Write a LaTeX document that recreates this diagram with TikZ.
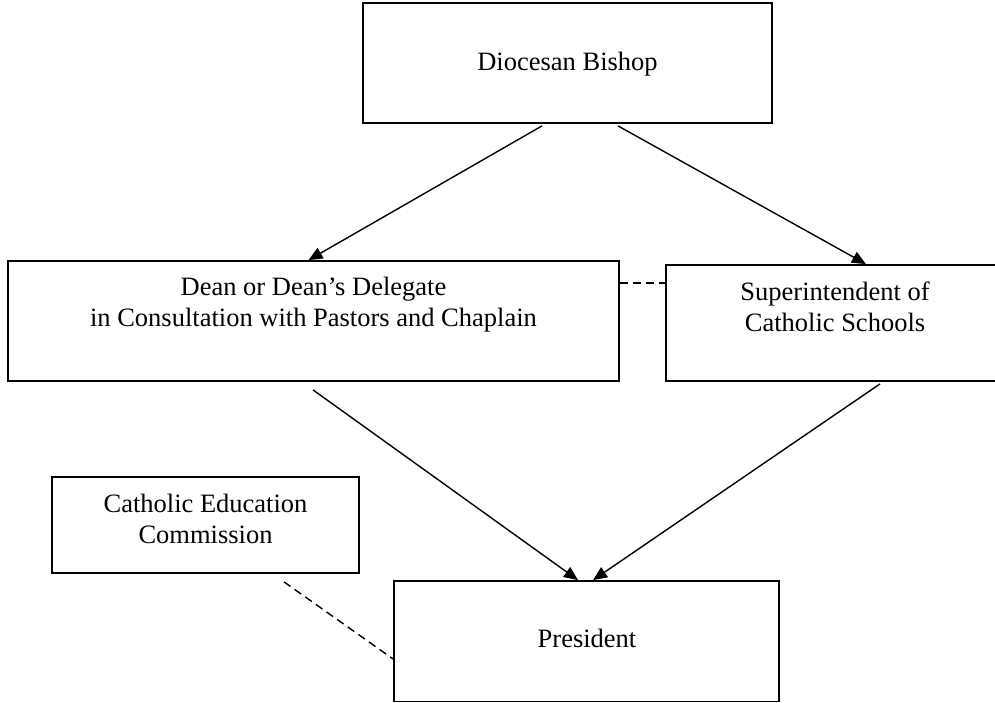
\documentclass[tikz,border=0pt]{standalone}
\usepackage{fontspec}
\setmainfont{Liberation Serif}
\usepackage{tikz}
\usetikzlibrary{arrows.meta,positioning,calc}
\tikzstyle{box}=[draw,line width=1.8pt,rectangle,inner sep=0pt]
\tikzstyle{txt}=[align=center,inner sep=0pt,font=\fontsize{26.5}{31}\selectfont]
\tikzstyle{arr}=[line width=1.4pt,-{Triangle[length=14pt,width=12pt]}]
\tikzstyle{dsh}=[line width=1.4pt,dash pattern=on 8pt off 5pt]

\begin{document}
\begin{tikzpicture}[x=1pt,y=-1pt]
\useasboundingbox (0,0) rectangle (995,703);
\node [box,minimum width=409pt,minimum height=120pt] (bishop) at (567.5,63) {};
\node [box,minimum width=611pt,minimum height=120pt] (dean) at (313.5,321) {};
\node [box,minimum width=338pt,minimum height=116pt] (super) at (835,323) {};
\node [box,minimum width=307pt,minimum height=96pt] (commission) at (205.5,525) {};
\node [box,minimum width=385pt,minimum height=120.5pt] (president) at (586.5,641.25) {};
\node [txt] (bishoptxt) at (567.5,64) {Diocesan Bishop};
\node [txt] (deantxt) at (313.5,304.4) {Dean or Dean’s Delegate\\in Consultation with Pastors and Chaplain};
\node [txt] (supertxt) at (835,306.5) {Superintendent of\\Catholic Schools};
\node [txt] (commissiontxt) at (205.5,518.5) {Catholic Education\\Commission};
\node [txt] (presidenttxt) at (587,638) {President};
\draw [arr] ($(bishop.south)+(-25.5,2)$) -- ($(dean.north)+(-5,0)$);
\draw [arr] ($(bishop.south)+(50.5,2)$) -- ($(super.north)+(31,0)$);
\draw [arr] ($(dean.south)+(-0.5,8)$) -- ($(president.north)+(-8.5,0)$);
\draw [arr] ($(super.south)+(45,2)$) -- ($(president.north)+(6.5,0)$);
\draw [dsh] ($(dean.north east)+(0,23)$) -- ($(super.north west)+(0,19)$);
\draw [dsh] ($(commission.south)+(78.5,8)$) -- ($(president.west)+(0,17.75)$);
\end{tikzpicture}
\end{document}
